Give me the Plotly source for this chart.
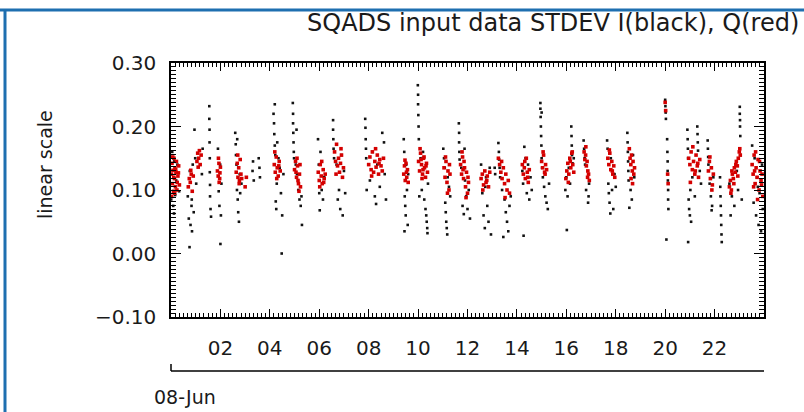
import plotly.graph_objects as go

# ---------------- data (hours of 08-Jun, STDEV values) ----------------
I_HOURS = [
    0.01, 0.05, 0.09, 0.13, 0.17, 0.21, 0.26, 0.33, 0.12,
    0.68, 0.72, 0.76, 0.79, 0.83, 0.85, 0.88, 0.92, 0.95, 0.98, 1.02, 1.25, 1.28, 0.75, 0.84,
    1.55, 1.55, 1.56, 1.56, 1.57, 1.57, 1.58, 1.58, 1.60, 1.62, 1.90, 1.93, 1.96, 1.99, 2.02, 2.04, 2.00,
    2.60, 2.62, 2.63, 2.65, 2.67, 2.70, 2.72, 2.75, 2.78, 2.80, 2.85, 3.30, 3.32, 3.35, 3.55, 3.58, 3.60, 2.68,
    4.15, 4.17, 4.18, 4.20, 4.22, 4.24, 4.26, 4.28, 4.30, 4.35, 4.40, 4.45, 4.50, 4.20, 4.55, 4.48,
    4.93, 4.94, 4.94, 4.95, 4.96, 4.97, 4.98, 5.05, 5.10, 5.15, 5.20, 5.25, 5.28, 5.30, 5.08,
    5.95, 5.98, 6.00, 6.05, 6.10, 6.15, 6.20, 6.02,
    6.56, 6.56, 6.57, 6.58, 6.60, 6.70, 6.75, 6.80, 6.85, 6.90, 7.00, 7.05, 6.95,
    7.86, 7.87, 7.88, 7.89, 7.90, 7.92, 8.05, 8.15, 8.25, 8.35, 8.45, 8.55, 8.62, 8.65, 8.70, 8.30,
    9.42, 9.44, 9.46, 9.48, 9.50, 9.52, 9.55, 9.58, 9.60, 9.45,
    9.99, 10.00, 10.00, 10.01, 10.02, 10.03, 10.10, 10.15, 10.20, 10.25, 10.30, 10.33, 10.35, 10.37, 10.38, 10.40, 10.05,
    11.02, 11.05, 11.08, 11.10, 11.12, 11.14, 11.16, 11.20, 11.25, 11.30, 11.18,
    11.65, 11.66, 11.66, 11.67, 11.68, 11.75, 11.80, 11.85, 11.90, 11.95, 12.00, 12.05, 12.10, 11.88,
    12.55, 12.60, 12.65, 12.70, 12.75, 12.80, 12.85, 12.90, 12.95, 12.72,
    13.10, 13.12, 13.25, 13.27, 13.28, 13.30, 13.32, 13.40, 13.50, 13.55, 13.60, 13.65, 13.70, 13.75, 13.45,
    14.22, 14.25, 14.30, 14.35, 14.40, 14.45, 14.50, 14.55, 14.60, 14.27,
    14.95, 14.95, 14.96, 14.97, 14.98, 14.99, 15.00, 15.02, 15.05, 15.10, 15.15, 15.20, 15.25, 15.30, 15.00,
    16.20, 16.21, 16.22, 16.23, 16.25, 15.96, 16.00, 16.05, 16.10, 16.15, 16.30, 16.02,
    16.70, 16.72, 16.74, 16.76, 16.80, 16.85, 16.90, 16.92, 16.88,
    17.65, 17.67, 17.70, 17.72, 17.75, 17.80, 17.85, 17.90, 17.95, 18.00, 17.78,
    18.47, 18.48, 18.49, 18.50, 18.51, 18.52, 18.60, 18.65, 18.70, 18.75, 18.55,
    20.00, 20.01, 20.02, 20.03, 20.08, 20.09, 20.10, 20.10, 20.11, 20.12, 20.12, 20.13, 20.05,
    20.90, 20.91, 20.92, 20.93, 20.95, 20.97, 21.00, 21.02, 21.05, 21.30, 21.31, 21.32, 21.33,
    21.10, 21.20, 21.40, 21.45, 20.93,
    21.72, 21.73, 21.74, 21.75, 21.80, 21.85, 21.90, 21.95, 21.88,
    22.22, 22.23, 22.24, 22.25, 22.26, 22.27, 22.28, 22.29,
    23.02, 23.02, 23.03, 23.03, 23.04, 22.60, 22.70, 22.80, 22.90, 22.95, 23.05, 23.10, 22.65,
    23.52, 23.58, 23.62, 23.68, 23.72, 23.78, 23.82, 23.88, 23.92, 23.95, 23.75,
]
I_VALUES = [
    0.085, 0.160, 0.075, 0.145, 0.092, 0.115, 0.140, 0.098, 0.063,
    0.090, 0.055, 0.130, 0.045, 0.075, 0.035, 0.140, 0.065, 0.195, 0.150, 0.110, 0.125, 0.165, 0.010, 0.085,
    0.232, 0.212, 0.195, 0.175, 0.150, 0.128, 0.108, 0.090, 0.070, 0.058, 0.165, 0.098, 0.075, 0.140, 0.060, 0.110, 0.015,
    0.190, 0.172, 0.155, 0.140, 0.100, 0.085, 0.065, 0.050, 0.125, 0.095, 0.110, 0.130, 0.145, 0.115, 0.150, 0.135, 0.120, 0.180,
    0.220, 0.205, 0.188, 0.170, 0.155, 0.082, 0.070, 0.110, 0.175, 0.150, 0.135, 0.095, 0.060, 0.235, 0.125, 0.000,
    0.237, 0.220, 0.205, 0.190, 0.175, 0.160, 0.150, 0.140, 0.125, 0.100, 0.085, 0.075, 0.090, 0.045, 0.195,
    0.180, 0.140, 0.095, 0.160, 0.100, 0.085, 0.120, 0.068,
    0.210, 0.195, 0.180, 0.165, 0.150, 0.140, 0.085, 0.100, 0.070, 0.155, 0.130, 0.095, 0.060,
    0.212, 0.198, 0.180, 0.165, 0.150, 0.100, 0.115, 0.160, 0.090, 0.140, 0.105, 0.190, 0.175, 0.125, 0.085, 0.078,
    0.180, 0.160, 0.090, 0.075, 0.060, 0.140, 0.100, 0.045, 0.125, 0.035,
    0.265, 0.250, 0.235, 0.218, 0.200, 0.180, 0.150, 0.100, 0.160, 0.085, 0.070, 0.060, 0.050, 0.040, 0.032, 0.110, 0.090,
    0.165, 0.150, 0.135, 0.080, 0.065, 0.050, 0.040, 0.120, 0.105, 0.090, 0.030,
    0.205, 0.190, 0.175, 0.160, 0.148, 0.135, 0.075, 0.062, 0.115, 0.090, 0.070, 0.100, 0.055, 0.165,
    0.140, 0.095, 0.060, 0.040, 0.120, 0.075, 0.050, 0.135, 0.030, 0.105,
    0.135, 0.125, 0.174, 0.160, 0.148, 0.135, 0.120, 0.100, 0.085, 0.065, 0.050, 0.035, 0.075, 0.090, 0.026,
    0.130, 0.110, 0.168, 0.150, 0.095, 0.140, 0.085, 0.120, 0.100, 0.028,
    0.237, 0.228, 0.215, 0.200, 0.185, 0.170, 0.150, 0.135, 0.120, 0.105, 0.090, 0.080, 0.070, 0.110, 0.222,
    0.200, 0.185, 0.170, 0.155, 0.142, 0.100, 0.120, 0.090, 0.135, 0.110, 0.150, 0.037,
    0.178, 0.165, 0.150, 0.140, 0.100, 0.120, 0.090, 0.110, 0.080,
    0.178, 0.165, 0.110, 0.095, 0.080, 0.150, 0.100, 0.070, 0.125, 0.105, 0.063,
    0.190, 0.175, 0.160, 0.145, 0.130, 0.115, 0.100, 0.085, 0.155, 0.120, 0.072,
    0.242, 0.232, 0.222, 0.212, 0.180, 0.160, 0.145, 0.130, 0.115, 0.100, 0.085, 0.070, 0.022,
    0.195, 0.180, 0.165, 0.150, 0.085, 0.070, 0.060, 0.100, 0.050, 0.200, 0.188, 0.175, 0.162,
    0.120, 0.090, 0.130, 0.110, 0.018,
    0.178, 0.165, 0.152, 0.140, 0.110, 0.090, 0.075, 0.120, 0.068,
    0.120, 0.105, 0.090, 0.075, 0.060, 0.045, 0.030, 0.018,
    0.231, 0.220, 0.210, 0.200, 0.185, 0.110, 0.090, 0.075, 0.130, 0.100, 0.155, 0.085, 0.060,
    0.170, 0.080, 0.150, 0.060, 0.120, 0.045, 0.095, 0.035, 0.140, 0.070, 0.105,
]

Q_HOURS = [
    0.02, 0.04, 0.06, 0.08, 0.10, 0.12, 0.14, 0.16, 0.18, 0.20, 0.22, 0.25, 0.28, 0.31, 0.34, 0.03, 0.07, 0.11, 0.15, 0.19, 0.24, 0.30,
    0.70, 0.74, 0.78, 0.82, 0.86, 0.90, 1.05, 1.08, 1.12, 1.15, 1.18, 1.22, 0.80, 1.10,
    1.88, 1.91, 1.94, 1.97, 2.00, 1.92, 1.98, 1.95,
    2.64, 2.68, 2.71, 2.74, 2.77, 2.80, 2.83, 2.86, 3.00, 3.05, 2.70, 2.76,
    4.18, 4.22, 4.26, 4.30, 4.34, 4.38, 4.42, 4.20, 4.28, 4.36,
    5.00, 5.04, 5.08, 5.12, 5.16, 5.20, 5.24, 5.10, 5.18, 5.06, 5.14, 5.22,
    5.96, 6.00, 6.04, 6.08, 6.12, 6.16, 6.20, 6.24, 6.02, 6.10, 6.18,
    6.62, 6.66, 6.70, 6.74, 6.78, 6.82, 6.86, 6.90, 6.94, 6.98, 6.68, 6.88,
    8.00, 8.05, 8.10, 8.15, 8.20, 8.25, 8.30, 8.35, 8.40, 8.45, 8.50, 8.55, 8.60, 8.12, 8.28, 8.42,
    9.42, 9.45, 9.48, 9.51, 9.54, 9.57, 9.60, 9.47, 9.53,
    10.02, 10.06, 10.10, 10.14, 10.18, 10.22, 10.26, 10.30, 10.34, 10.38, 10.08, 10.16, 10.24, 10.32, 10.12, 10.20,
    11.05, 11.09, 11.13, 11.17, 11.21, 11.25, 11.29, 11.11, 11.19, 11.27,
    11.72, 11.76, 11.80, 11.84, 11.88, 11.92, 11.96, 12.00, 12.04, 11.78, 11.86, 11.94, 12.02, 11.82,
    12.55, 12.60, 12.65, 12.70, 12.75, 12.80, 12.85, 12.90, 12.62, 12.78,
    13.25, 13.30, 13.35, 13.40, 13.45, 13.50, 13.55, 13.60, 13.65, 13.70, 13.38, 13.52,
    14.22, 14.26, 14.30, 14.34, 14.38, 14.42, 14.46, 14.50, 14.32, 14.44,
    15.00, 15.04, 15.08, 15.12, 15.16, 15.20, 15.06, 15.14,
    15.98, 16.02, 16.06, 16.10, 16.14, 16.18, 16.22, 16.26, 16.30, 16.08, 16.16, 16.24,
    16.72, 16.75, 16.78, 16.81, 16.84, 16.87, 16.90, 16.93, 16.79, 16.86,
    17.68, 17.72, 17.76, 17.80, 17.84, 17.88, 17.92, 17.96, 17.74, 17.86,
    18.55, 18.58, 18.61, 18.64, 18.67, 18.70, 18.73, 18.76, 18.62, 18.68,
    20.00, 20.02, 20.10, 20.12,
    20.95, 21.00, 21.05, 21.10, 21.15, 21.20, 21.25, 21.30, 21.35, 21.40, 21.02, 21.12, 21.22, 21.32,
    21.75, 21.79, 21.83, 21.87, 21.91, 21.95, 21.81, 21.89,
    22.60, 22.64, 22.68, 22.72, 22.76, 22.80, 22.84, 22.88, 22.92, 22.96, 23.00, 23.04, 22.70, 22.78, 22.86, 22.94, 23.02, 22.66,
    23.52, 23.56, 23.60, 23.64, 23.68, 23.72, 23.76, 23.80, 23.84, 23.88, 23.92, 23.95, 23.58, 23.66, 23.74, 23.82, 23.90, 23.62,
]
Q_VALUES = [
    0.125, 0.142, 0.110, 0.131, 0.098, 0.150, 0.118, 0.135, 0.105, 0.128, 0.145, 0.112, 0.122, 0.138, 0.108, 0.090, 0.152, 0.120, 0.095, 0.132, 0.100, 0.127,
    0.105, 0.118, 0.112, 0.125, 0.098, 0.122, 0.145, 0.158, 0.150, 0.162, 0.140, 0.155, 0.131, 0.136,
    0.130, 0.122, 0.142, 0.118, 0.136, 0.150, 0.127, 0.112,
    0.128, 0.142, 0.120, 0.135, 0.115, 0.148, 0.125, 0.118, 0.105, 0.120, 0.155, 0.110,
    0.140, 0.128, 0.152, 0.135, 0.122, 0.145, 0.130, 0.160, 0.118, 0.138,
    0.132, 0.145, 0.120, 0.138, 0.110, 0.125, 0.105, 0.150, 0.098, 0.128, 0.115, 0.140,
    0.128, 0.115, 0.140, 0.122, 0.110, 0.132, 0.118, 0.125, 0.105, 0.145, 0.112,
    0.160, 0.145, 0.172, 0.138, 0.150, 0.128, 0.142, 0.155, 0.120, 0.135, 0.125, 0.165,
    0.140, 0.152, 0.132, 0.160, 0.128, 0.145, 0.136, 0.155, 0.125, 0.148, 0.138, 0.130, 0.150, 0.122, 0.165, 0.142,
    0.125, 0.138, 0.115, 0.142, 0.120, 0.132, 0.112, 0.147, 0.128,
    0.145, 0.130, 0.158, 0.140, 0.125, 0.150, 0.135, 0.120, 0.142, 0.128, 0.165, 0.118, 0.152, 0.138, 0.148, 0.132,
    0.135, 0.120, 0.145, 0.112, 0.130, 0.100, 0.125, 0.152, 0.095, 0.140,
    0.140, 0.125, 0.152, 0.118, 0.135, 0.105, 0.128, 0.095, 0.112, 0.160, 0.145, 0.088, 0.120, 0.132,
    0.118, 0.125, 0.108, 0.130, 0.112, 0.122, 0.105, 0.128, 0.100, 0.115,
    0.150, 0.140, 0.128, 0.118, 0.135, 0.110, 0.125, 0.100, 0.115, 0.095, 0.145, 0.088,
    0.140, 0.125, 0.135, 0.118, 0.150, 0.128, 0.112, 0.132, 0.145, 0.120,
    0.145, 0.135, 0.155, 0.128, 0.140, 0.132, 0.160, 0.125,
    0.118, 0.130, 0.142, 0.125, 0.150, 0.135, 0.158, 0.140, 0.128, 0.112, 0.145, 0.160,
    0.160, 0.148, 0.155, 0.138, 0.145, 0.130, 0.125, 0.115, 0.168, 0.120,
    0.150, 0.140, 0.158, 0.132, 0.145, 0.125, 0.138, 0.120, 0.163, 0.130,
    0.165, 0.150, 0.140, 0.155, 0.130, 0.145, 0.125, 0.135, 0.118, 0.110,
    0.238, 0.225, 0.125, 0.110,
    0.150, 0.140, 0.160, 0.132, 0.145, 0.125, 0.155, 0.138, 0.120, 0.148, 0.112, 0.168, 0.130, 0.142,
    0.130, 0.145, 0.118, 0.135, 0.108, 0.125, 0.152, 0.100,
    0.105, 0.115, 0.100, 0.125, 0.118, 0.135, 0.128, 0.145, 0.138, 0.150, 0.160, 0.155, 0.130, 0.110, 0.140, 0.122, 0.165, 0.095,
    0.140, 0.125, 0.155, 0.110, 0.135, 0.120, 0.148, 0.100, 0.130, 0.115, 0.125, 0.090, 0.105, 0.160, 0.085, 0.145, 0.108, 0.130,
]

X_TICK_HOURS = [2, 4, 6, 8, 10, 12, 14, 16, 18, 20, 22]
X_TICK_LABELS = ["02", "04", "06", "08", "10", "12", "14", "16", "18", "20", "22"]
Y_TICK_VALUES = [-0.10, 0.00, 0.10, 0.20, 0.30]
Y_TICK_LABELS = ["\u22120.10", "0.00", "0.10", "0.20", "0.30"]
DATE_LABEL = "08-Jun"
TITLE = "SQADS input data STDEV I(black), Q(red)"
Y_TITLE = "linear scale"

# ---------------- figure ----------------
W, H = 804, 412
ML, MR, MT, MB = 171, 40, 63, 95
PW, PH = W - ML - MR, H - MT - MB


def px(x):
    return (x - ML) / PW


def py(y):
    return (H - MB - y) / PH


FONT = "DejaVu Sans"
TXT = "#1a1a1a"

fig = go.Figure()
fig.add_trace(go.Scatter(x=I_HOURS, y=I_VALUES, mode="markers", name="I",
                         marker=dict(color="#111111", size=2.6, symbol="square", line=dict(width=0))))
fig.add_trace(go.Scatter(x=Q_HOURS, y=Q_VALUES, mode="markers", name="Q",
                         marker=dict(color="#d40000", size=3.6, symbol="square", line=dict(width=0))))

axis_common = dict(showline=True, linecolor="black", linewidth=1.5, mirror="ticks",
                   ticks="inside", tickcolor="black", tickwidth=1.2,
                   showgrid=False, zeroline=False,
                   tickfont=dict(family=FONT, size=20, color=TXT))

fig.update_xaxes(range=[0, 24], tickmode="array", tickvals=X_TICK_HOURS, ticktext=X_TICK_LABELS,
                 ticklen=8, ticklabelstandoff=12,
                 minor=dict(tickmode="linear", tick0=0, dtick=1 / 6, ticks="inside", ticklen=4,
                            tickcolor="black", tickwidth=1, showgrid=False),
                 **axis_common)
fig.update_yaxes(range=[-0.10, 0.30], tickmode="array", tickvals=Y_TICK_VALUES, ticktext=Y_TICK_LABELS,
                 ticklen=10, ticklabelstandoff=9,
                 minor=dict(tickmode="linear", tick0=-0.1, dtick=0.1 / 16, ticks="inside", ticklen=5,
                            tickcolor="black", tickwidth=1, showgrid=False),
                 **axis_common)

blue = "#1e6fb0"
shapes = [
    dict(type="line", xref="paper", yref="paper", x0=px(0), x1=px(W), y0=py(10), y1=py(10),
         line=dict(color=blue, width=3)),
    dict(type="line", xref="paper", yref="paper", x0=px(5), x1=px(5), y0=py(10), y1=py(H + 2),
         line=dict(color=blue, width=3)),
    dict(type="line", xref="paper", yref="paper", x0=0, x1=1, y0=py(371), y1=py(371),
         line=dict(color="black", width=1.5)),
    dict(type="line", xref="paper", yref="paper", x0=0, x1=0, y0=py(371), y1=py(364),
         line=dict(color="black", width=1.5)),
]

annotations = [
    dict(text=TITLE, xref="paper", yref="paper", x=px(801), y=py(23), xanchor="right", yanchor="middle",
         showarrow=False, font=dict(family=FONT, size=24, color=TXT)),
    dict(text=Y_TITLE, xref="paper", yref="paper", x=px(45), y=py(165), xanchor="center", yanchor="middle",
         textangle=-90, showarrow=False, font=dict(family=FONT, size=19, color=TXT)),
    dict(text=DATE_LABEL, xref="paper", yref="paper", x=px(218), y=py(397), xanchor="right", yanchor="middle",
         showarrow=False, font=dict(family=FONT, size=19, color=TXT)),
]

fig.update_layout(width=W, height=H, margin=dict(l=ML, r=MR, t=MT, b=MB, pad=0),
                  paper_bgcolor="white", plot_bgcolor="white", showlegend=False,
                  shapes=shapes, annotations=annotations)

fig.write_html("out.html", config={"displayModeBar": False},
               post_script="document.body.style.margin='0';document.body.style.overflow='hidden';")
